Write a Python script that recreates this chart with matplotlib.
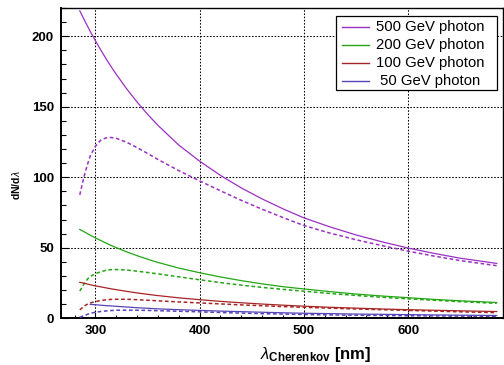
import matplotlib
matplotlib.use("Agg")
import matplotlib.pyplot as plt
from matplotlib.ticker import MultipleLocator
from matplotlib.lines import Line2D
from matplotlib.patches import Rectangle

plt.rcParams['font.family'] = ['Liberation Sans', 'DejaVu Sans']
plt.rcParams['mathtext.fontset'] = 'custom'
plt.rcParams['mathtext.rm'] = 'Liberation Sans'
plt.rcParams['mathtext.bf'] = 'Liberation Sans:bold'
plt.rcParams['mathtext.it'] = 'Liberation Sans:italic'

# wavelength grids (nm)
wl_solid = [285, 290, 295, 300, 305, 310, 315, 320, 330, 340, 350, 360, 380, 400, 420, 440,
            460, 480, 500, 525, 550, 575, 600, 625, 650, 685]
wl_blue_solid = [295, 300, 310, 320, 330, 340, 350, 360, 380, 400, 420, 440,
                 460, 480, 500, 525, 550, 575, 600, 625, 650, 685]
wl_dash = [285, 288, 290, 293, 295, 300, 305, 310, 315, 320, 330, 340, 350, 360,
           380, 400, 420, 440, 460, 480, 500, 525, 550, 575, 600, 625, 650, 685]

# dN/dlambda, solid curves
s500 = [218, 210.6, 203.5, 196.8, 190.4, 184.3, 178.5, 173.0, 162.7, 153.3, 144.7, 136.8,
        122.8, 111.4, 101.3, 92.4, 84.6, 77.6, 71.2, 64.8, 59.1, 54.2, 49.8, 46.0, 42.6, 38.9]
s200 = [63.0, 61.0, 58.9, 57.0, 55.2, 53.4, 51.7, 50.1, 47.1, 44.4, 41.9, 39.6, 35.6, 32.3,
        29.3, 26.7, 24.4, 22.4, 20.8, 18.9, 17.2, 15.8, 14.6, 13.4, 12.4, 11.2]
s100 = [25.5, 24.7, 23.8, 23.0, 22.3, 21.6, 20.9, 20.3, 19.1, 18.0, 17.0, 16.1, 14.5, 13.2,
        12.0, 11.0, 10.1, 9.3, 8.6, 7.8, 7.2, 6.6, 6.1, 5.7, 5.3, 4.8]
s50 = [9.9, 9.6, 9.0, 8.5, 8.0, 7.5, 7.1, 6.7, 6.1, 5.6, 5.1, 4.7, 4.3, 3.9, 3.6,
       3.3, 3.0, 2.8, 2.6, 2.4, 2.2, 2.0]

# dashed curves
d500 = [87.5, 97, 103, 110.5, 115, 122, 126.2, 127.9, 128.2, 127.6, 124.8, 121.0,
        116.9, 112.6, 104.7, 97.4, 90.4, 83.6, 77.3, 71.4, 65.8, 60.4, 55.7, 51.5,
        47.6, 44.1, 40.9, 37.3]
d200 = [19.3, 23, 25.5, 28.3, 29.7, 31.6, 33.0, 34.0, 34.5, 34.6, 34.2, 33.4, 32.5,
        31.5, 29.4, 27.3, 25.3, 23.5, 21.9, 20.5, 19.2, 17.6, 16.2, 14.9, 13.8, 12.8,
        11.8, 10.6]
d100 = [6.0, 7.8, 9.0, 10.3, 10.9, 11.8, 12.6, 13.1, 13.4, 13.5, 13.5, 13.2, 12.8,
        12.4, 11.6, 10.9, 10.2, 9.5, 8.9, 8.3, 7.8, 7.2, 6.6, 6.1, 5.6, 5.1, 4.6, 4.0]
d50 = [0.7, 1.6, 2.2, 3.0, 3.5, 4.3, 4.8, 5.2, 5.5, 5.7, 5.8, 5.7, 5.6, 5.4, 5.0,
       4.6, 4.1, 3.7, 3.3, 3.0, 2.7, 2.4, 2.2, 2.0, 1.8, 1.7, 1.55, 1.4]

labels = ["500 GeV photon", "200 GeV photon", "100 GeV photon", " 50 GeV photon"]
colors = ["#9b30c4", "#22a614", "#a82424", "#5544b8"]

fig = plt.figure(figsize=(5.04, 3.65), dpi=100)
W, H = 504.0, 365.0
ax = fig.add_axes([61 / W, (H - 318.3) / H, 442 / W, (318.3 - 8) / H])

solids = [(wl_solid, s500), (wl_solid, s200), (wl_solid, s100), (wl_blue_solid, s50)]
dashes = [d500, d200, d100, d50]
for (wx, sy), dy, c, lab in zip(solids, dashes, colors, labels):
    ax.plot(wx, sy, color=c, lw=0.9, label=lab, zorder=3)
    ax.plot(wl_dash, dy, color=c, lw=1.1, linestyle=(0, (2.4, 1.7)), zorder=3)

ax.set_xlim(267, 691)
ax.set_ylim(0, 220)
ax.xaxis.set_major_locator(MultipleLocator(100))
ax.xaxis.set_minor_locator(MultipleLocator(20))
ax.yaxis.set_major_locator(MultipleLocator(50))
ax.yaxis.set_minor_locator(MultipleLocator(10))
ax.grid(True, which='major', color='black', lw=0.75, linestyle=(0, (1.5, 1.6)))
ax.set_axisbelow(True)

ax.tick_params(axis='both', which='both', direction='in', top=False, right=False)
ax.tick_params(axis='y', which='major', length=6, width=0.8)
ax.tick_params(axis='y', which='minor', length=3.5, width=0.8)
ax.tick_params(axis='x', which='major', length=4.5, width=0.8)
ax.tick_params(axis='x', which='minor', length=2.5, width=0.8)
ax.tick_params(axis='y', pad=5)
ax.tick_params(axis='x', pad=5)
for lab in ax.get_xticklabels() + ax.get_yticklabels():
    lab.set_fontweight('bold')
    lab.set_fontsize(9.5)

for s in ['left', 'bottom']:
    ax.spines[s].set_linewidth(1.4)
ax.spines['top'].set_linewidth(1.0)
ax.spines['right'].set_linewidth(1.0)

ax.set_xlabel(r'$\lambda_{\mathbf{Cherenkov}}$ [nm]', fontsize=12, fontweight='bold')
ax.xaxis.set_label_coords((316 - 61) / 442, -(355 - 318.3) / 310.3)
ax.xaxis.label.set_va('center')

ax.set_ylabel(r'dN/d$\lambda$', fontsize=7.5, fontweight='bold')
ax.yaxis.set_label_coords(-(61 - 16) / 442, (318.3 - 185) / 310.3)
ax.yaxis.label.set_va('center')

# legend drawn in figure pixel coordinates
def fx(px):
    return px / W

def fy(py):
    return (H - py) / H

fig.patches.append(Rectangle((fx(335.7), fy(90)), fx(497) - fx(335.7), fy(16) - fy(90),
                             transform=fig.transFigure, facecolor='white',
                             edgecolor='black', lw=0.9, zorder=10))
rows = [26.7, 44.7, 63.0, 81.3]
for yy, c, lab in zip(rows, colors, labels):
    fig.lines.append(Line2D([fx(341.7), fx(369.3)], [fy(yy), fy(yy)], color=c, lw=1.0,
                            transform=fig.transFigure, zorder=11))
    fig.text(fx(375.5), fy(yy), lab, fontsize=10.7, va='center', ha='left', zorder=12)

fig.savefig("out.png", dpi=100)
